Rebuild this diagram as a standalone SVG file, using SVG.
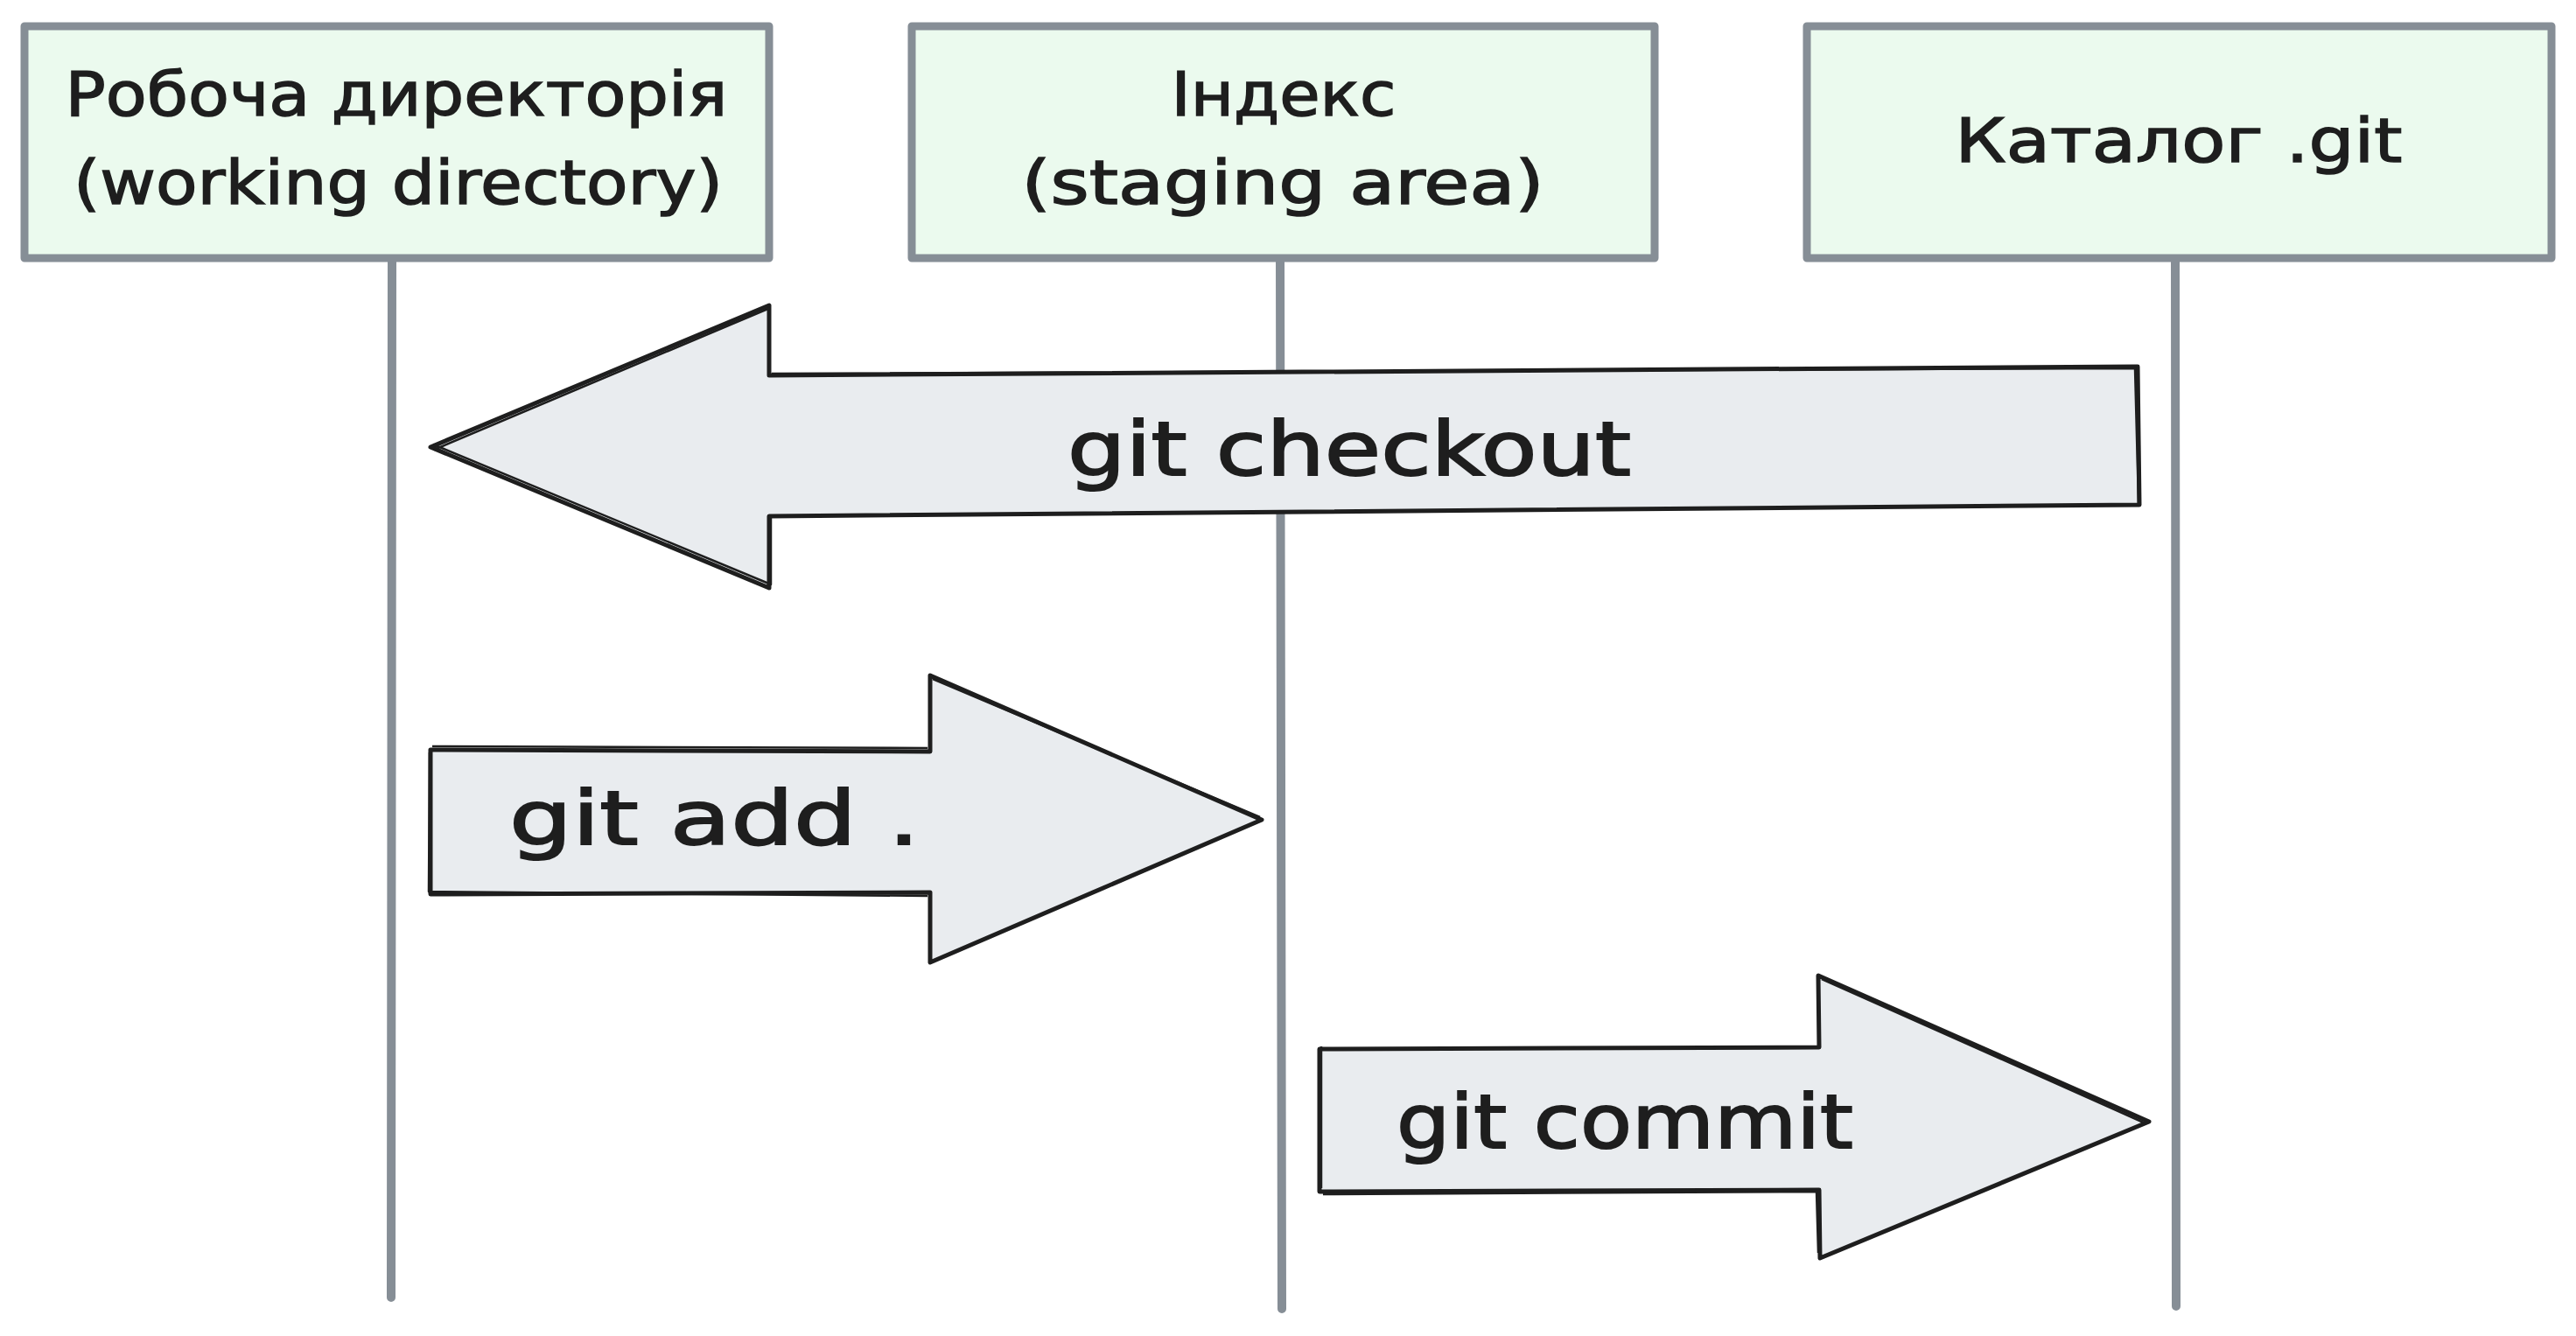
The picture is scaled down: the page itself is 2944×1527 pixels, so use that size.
<svg xmlns="http://www.w3.org/2000/svg" width="2944" height="1527" viewBox="0 0 2944 1527">
<style>
.box{fill:#ebfaee;stroke:#868e96;stroke-width:9;stroke-linejoin:round}
.life{stroke:#868e96;stroke-width:10;stroke-linecap:round;fill:none}
.arrow{fill:#e9ecef;stroke:#1e1e1e;stroke-width:5;stroke-linejoin:round}
.sk{fill:none;stroke:#1e1e1e;stroke-width:2.5;stroke-linejoin:round}
.bt{font-family:"DejaVu Sans","Noto Sans",sans-serif;font-size:70px;fill:#1e1e1e;stroke:#1e1e1e;stroke-width:1.5;text-anchor:middle}
.at{font-family:"DejaVu Sans","Noto Sans",sans-serif;font-size:86px;fill:#1e1e1e;stroke:#1e1e1e;stroke-width:2}
</style>
<rect width="2944" height="1527" fill="#ffffff"/>
<g id="connectors">
<line class="life" x1="448" y1="295" x2="447" y2="1483"/>
<line class="life" x1="1463" y1="295" x2="1465" y2="1496"/>
<line class="life" x1="2486" y1="295" x2="2487" y2="1493"/>
</g>
<g id="node-working">
<rect class="box" x="28" y="30" width="851" height="265"/>
<text class="bt" x="453" y="132" textLength="757" lengthAdjust="spacingAndGlyphs">Робоча директорія</text>
<text class="bt" x="455" y="233" textLength="742" lengthAdjust="spacingAndGlyphs">(working directory)</text>
</g>
<g id="node-index">
<rect class="box" x="1042" y="30" width="849" height="265"/>
<text class="bt" x="1467" y="132" textLength="257" lengthAdjust="spacingAndGlyphs">Індекс</text>
<text class="bt" x="1466" y="233" textLength="597" lengthAdjust="spacingAndGlyphs">(staging area)</text>
</g>
<g id="node-git">
<rect class="box" x="2065" y="30" width="851" height="265"/>
<text class="bt" x="2490" y="185" textLength="511" lengthAdjust="spacingAndGlyphs">Каталог .git</text>
</g>
<g id="arrow-checkout">
<path class="arrow" d="M492,511 L879,349 L879,429 L2443,419 L2445,577 L879,590 L879,672 Z"/>
<path class="sk" d="M496,514 L880,352 M882,427 L2440,421 L2444,575 M881,592 L881,668 L495,508"/>
<text class="at" x="1220" y="543" textLength="644" lengthAdjust="spacingAndGlyphs">git checkout</text>
</g>
<g id="arrow-add">
<path class="arrow" d="M492,857 L1063,859 L1063,772 L1442,937 L1063,1100 L1063,1020 L492,1022 Z"/>
<path class="sk" d="M494,853 L1060,855 M1066,776 L1440,934 M1060,1024 L490,1019 L491,860"/>
<text class="at" x="582" y="965" textLength="469" lengthAdjust="spacingAndGlyphs">git add .</text>
</g>
<g id="arrow-commit">
<path class="arrow" d="M1508,1199 L2079,1197 L2078,1115 L2456,1282 L2080,1438 L2079,1360 L1508,1362 Z"/>
<path class="sk" d="M1510,1196 L1510,1358 M1512,1365 L2076,1362 L2078,1432 M2082,1119 L2452,1284"/>
<text class="at" x="1596" y="1312" textLength="522" lengthAdjust="spacingAndGlyphs">git commit</text>
</g>
</svg>
